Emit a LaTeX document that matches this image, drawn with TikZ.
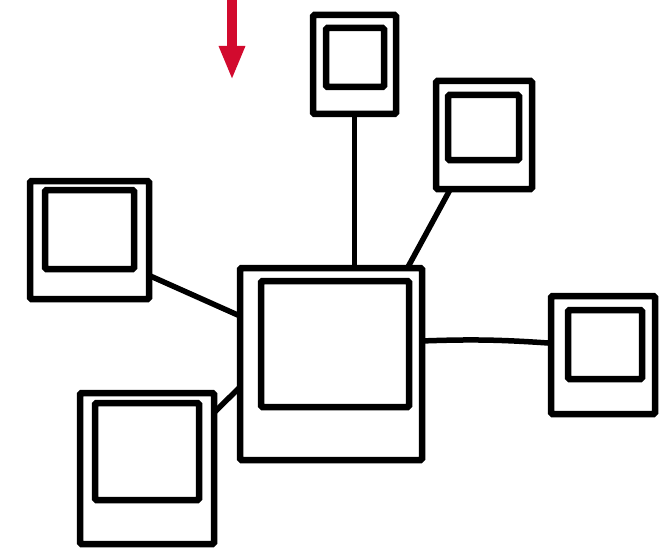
\documentclass[tikz,border=0pt]{standalone}
\usepackage{amsmath}
\usepackage{tikz}
\usetikzlibrary{calc}
\usetikzlibrary{positioning}
\usetikzlibrary{arrows.meta}
\definecolor{pinRed}{HTML}{D20A2E}
\tikzset{
  frameNode/.style={%
    rectangle, draw, line width=6.5pt, fill=white,
    inner sep=0pt, outer sep=0pt, rounded corners=1.5pt,
  },
  photoNode/.style={%
    rectangle, draw, line width=6.5pt,
    inner sep=0pt, outer sep=0pt, rounded corners=1.5pt,
  },
  wireLine/.style={%
    line width=5.5pt, line cap=round,
  }
}

\begin{document}
\begin{tikzpicture}[x=1pt,y=-1pt]
                \useasboundingbox (0,0) rectangle (668,548);
                % frames with their photo windows
                \node[frameNode, minimum width=182pt, minimum height=192pt]
                  (hub) at (331,364) {};
                \node[frameNode, minimum width=83pt, minimum height=99pt]
                  (top) at (354.5,64.5) {};
                \node[frameNode, minimum width=96pt, minimum height=108pt]
                  (upright) at (484,135) {};
                \node[frameNode, minimum width=119pt, minimum height=118pt]
                  (left) at (89.5,240) {};
                \node[frameNode, minimum width=134pt, minimum height=151pt]
                  (lowleft) at (147,468.5) {};
                \node[frameNode, minimum width=104pt, minimum height=118pt]
                  (right) at (603,355) {};
                \node[photoNode, minimum width=148pt, minimum height=126pt]
                  (hubPhoto) at (335,344) {};
                \node[photoNode, minimum width=58pt, minimum height=59pt]
                  (topPhoto) at (355,57.5) {};
                \node[photoNode, minimum width=71pt, minimum height=65pt]
                  (uprightPhoto) at (483.5,127.5) {};
                \node[photoNode, minimum width=89pt, minimum height=79pt]
                  (leftPhoto) at (89.5,229.5) {};
                \node[photoNode, minimum width=104pt, minimum height=97pt]
                  (lowleftPhoto) at (147,451.5) {};
                \node[photoNode, minimum width=74pt, minimum height=69pt]
                  (rightPhoto) at (605,344.5) {};
                \draw[wireLine]
                  (top.south) -- (top.south |- hub.north)
                  ;
                \draw[wireLine]
                  ($(upright.south west)!0.15!(upright.south east)$)
                  -- ($(hub.north west)!0.92!(hub.north east)$)
                  ;
                \draw[wireLine]
                  ($(left.north east)!0.8!(left.south east)$)
                  -- ($(hub.north west)!0.25!(hub.south west)$)
                  ;
                \draw[wireLine]
                  ($(lowleft.north east)!0.13!(lowleft.south east)$)
                  -- ($(hub.north west)!0.62!(hub.south west)$)
                  ;
                \draw[wireLine]
                  ($(right.north west)!0.4!(right.south west)$)
                  to[bend right=3] ($(hub.north east)!0.38!(hub.south east)$)
                  ;
                % red pointer
                \coordinate (pinTail) at (232,-2);
                \coordinate (pinHead) at (232,80);
                \draw[pinRed, line width=10pt,
                  -{Triangle[width=24pt,length=34pt]}]
                  (pinTail) -- (pinHead)
                  ;
              \end{tikzpicture}
\end{document}
